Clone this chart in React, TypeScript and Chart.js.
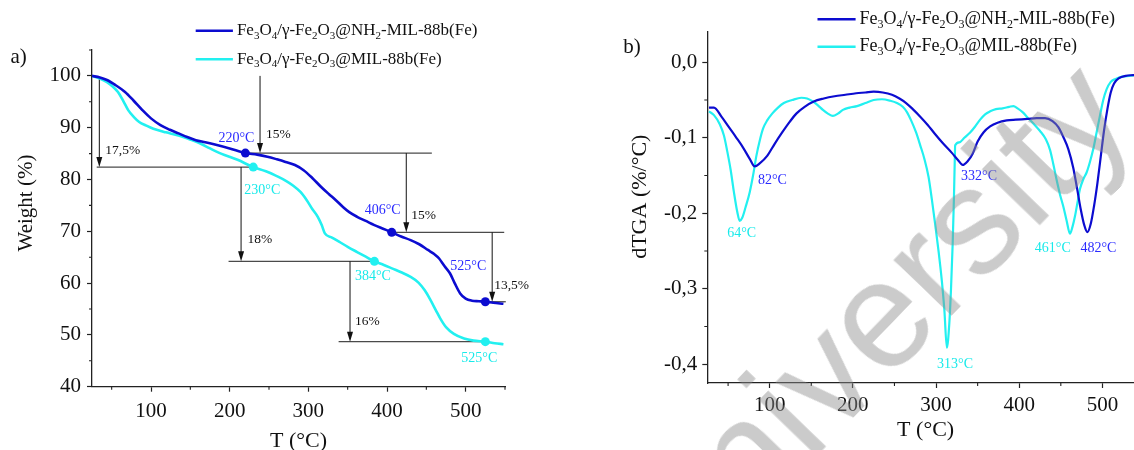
import { useEffect, useRef } from "react";
import { Chart, registerables } from "chart.js";

Chart.register(...registerables);

const SERIF = '"Liberation Serif", "Times New Roman", serif';
const NH2_COLOR = "#0c0cd0";
const MIL_COLOR = "#22f0f0";
const NH2_TEXT = "#2b2bff";
const MIL_TEXT = "#18eaea";
const AXIS_COLOR = "#222";

// Sample names; "_d" marks a subscript digit
const sampleNames = ["Fe_3O_4/γ-Fe_2O_3@NH_2-MIL-88b(Fe)", "Fe_3O_4/γ-Fe_2O_3@MIL-88b(Fe)"];

// TGA – Fe3O4/γ-Fe2O3@NH2-MIL-88b(Fe)
const tgaTempNH2 = [25, 35, 44, 55, 67, 78, 89, 100, 112, 124, 135, 146, 157, 169, 180, 200, 220, 235, 248, 260, 271, 283, 294, 305, 316, 326, 335, 344, 352, 362, 373, 384, 395, 406, 418, 430, 441, 452, 460, 466, 473, 480, 486, 493, 500, 508, 517, 525, 535, 548];
const tgaWeightNH2 = [100, 99.7, 99.2, 98.2, 96.9, 95.2, 93.4, 91.8, 90.5, 89.6, 88.9, 88.2, 87.6, 87.2, 86.8, 86.0, 85.1, 84.8, 84.4, 83.9, 83.4, 82.8, 81.8, 80.3, 78.6, 77.2, 76.0, 74.7, 73.7, 72.8, 72.0, 71.2, 70.5, 69.8, 69.0, 68.3, 67.5, 66.4, 65.6, 64.8, 63.3, 61.9, 60.0, 58.0, 57.0, 56.6, 56.5, 56.4, 56.2, 56.0];

// TGA – Fe3O4/γ-Fe2O3@MIL-88b(Fe)
const tgaTempMIL = [25, 35, 44, 51, 58, 65, 71, 78, 85, 94, 103, 119, 135, 148, 162, 175, 189, 210, 230, 246, 262, 272, 280, 290, 298, 305, 312, 317, 321, 330, 339, 350, 362, 373, 384, 396, 407, 418, 430, 440, 448, 455, 462, 468, 475, 485, 498, 510, 525, 537, 548];
const tgaWeightMIL = [100, 99.5, 98.8, 98.0, 96.9, 95.1, 93.4, 92.1, 91.1, 90.4, 89.8, 89.1, 88.5, 87.8, 87.0, 86.0, 85.0, 83.8, 82.4, 81.6, 80.5, 79.7, 78.9, 77.6, 76.0, 74.3, 72.8, 71.2, 69.6, 68.8, 68.0, 67.0, 66.0, 65.1, 64.2, 63.5, 62.8, 62.1, 61.2, 60.1, 58.6, 56.8, 54.8, 53.1, 51.5, 50.2, 49.3, 48.9, 48.7, 48.4, 48.2];

// dTGA – NH2 sample
const dtgaTempNH2 = [27, 33, 42, 51, 60, 68, 76, 82, 88, 97, 106, 115, 124, 132, 142, 153, 165, 178, 191, 204, 215, 225, 236, 247, 256, 264, 272, 281, 290, 298, 308, 319, 326, 332, 338, 344, 350, 357, 365, 374, 385, 396, 410, 421, 431, 440, 447, 453, 459, 465, 470, 474, 478, 482, 486, 490, 494, 498, 502, 506, 510, 514, 520, 528, 537, 548];
const dtgaRateNH2 = [-0.060, -0.060, -0.072, -0.086, -0.100, -0.113, -0.128, -0.138, -0.134, -0.124, -0.108, -0.093, -0.079, -0.068, -0.059, -0.052, -0.048, -0.045, -0.043, -0.041, -0.040, -0.039, -0.040, -0.043, -0.048, -0.054, -0.062, -0.072, -0.083, -0.094, -0.107, -0.120, -0.129, -0.136, -0.131, -0.121, -0.105, -0.093, -0.085, -0.080, -0.077, -0.076, -0.075, -0.074, -0.074, -0.078, -0.086, -0.099, -0.115, -0.140, -0.170, -0.195, -0.215, -0.225, -0.214, -0.190, -0.160, -0.125, -0.090, -0.062, -0.040, -0.028, -0.021, -0.018, -0.017, -0.016];

// dTGA – MIL sample
const dtgaTempMIL = [27, 33, 40, 45, 49, 53, 57, 61, 64, 67, 71, 76, 80, 84, 88, 92, 97, 103, 110, 117, 127, 138, 145, 152, 158, 164, 170, 176, 182, 188, 196, 205, 215, 225, 235, 245, 253, 260, 265, 270, 276, 281, 286, 291, 295, 299, 303, 307, 310, 313, 316, 318, 320, 321.5, 322.5, 323, 328, 334, 341, 347, 353, 359, 365, 372, 380, 388, 393, 398, 404, 410, 417, 425, 432, 437, 441, 445, 449, 453, 457, 461, 464, 467, 470, 473, 477, 481, 485, 489, 493, 497, 501, 505, 510, 516, 524, 532, 540, 548];
const dtgaRateMIL = [-0.065, -0.070, -0.082, -0.097, -0.118, -0.142, -0.172, -0.198, -0.210, -0.206, -0.192, -0.172, -0.150, -0.124, -0.104, -0.088, -0.077, -0.068, -0.060, -0.054, -0.050, -0.047, -0.048, -0.052, -0.057, -0.063, -0.068, -0.071, -0.068, -0.063, -0.060, -0.058, -0.054, -0.050, -0.049, -0.051, -0.054, -0.059, -0.066, -0.077, -0.093, -0.110, -0.128, -0.152, -0.182, -0.215, -0.250, -0.290, -0.328, -0.378, -0.345, -0.300, -0.240, -0.180, -0.130, -0.110, -0.106, -0.100, -0.093, -0.085, -0.076, -0.069, -0.065, -0.062, -0.061, -0.059, -0.058, -0.061, -0.066, -0.073, -0.081, -0.091, -0.102, -0.116, -0.135, -0.156, -0.175, -0.191, -0.210, -0.227, -0.218, -0.204, -0.186, -0.168, -0.155, -0.146, -0.132, -0.115, -0.093, -0.071, -0.050, -0.036, -0.026, -0.022, -0.019, -0.018, -0.017, -0.016];

// Axis ticks
const tempTicks = [100, 200, 300, 400, 500];
const tempMinorTicks = [50, 150, 250, 350, 450, 550];
const weightTicks = [40, 50, 60, 70, 80, 90, 100];
const weightMinorTicks = [45, 55, 65, 75, 85, 95, 105];
const rateTicks = [-0.4, -0.3, -0.2, -0.1, 0];
const rateMinorTicks = [-0.35, -0.25, -0.15, -0.05];

// Characteristic temperatures marked on the TGA curves
const tgaMarkTempNH2 = [220, 406, 525];
const tgaMarkTempMIL = [230, 384, 525];
// Mass losses between the marked temperatures
const lossNH2 = ["15%", "15%", "13,5%"];
const lossMIL = ["17,5%", "18%", "16%"];

// dTGA peak temperatures
const peakTempNH2 = [82, 332, 482];
const peakTempMIL = [64, 313, 461];

// ---- annotation layout (arrow temperatures in °C, offsets in px) ----
const stepLayoutNH2 = [
  { arrowT: 238.6, top: 100, guideFrom: null as number | null, guideTo: 457, dx: 6, dy: -19 },
  { arrowT: 424.5, top: null as number | null, guideFrom: null, guideTo: 549, dx: 5, dy: -17 },
  { arrowT: 533.7, top: null as number | null, guideFrom: null, guideTo: 551, dx: 2, dy: -16 },
];
const stepLayoutMIL = [
  { arrowT: 34.3, top: 99.4, guideFrom: 31, guideTo: null as number | null, dx: 6, dy: -17 },
  { arrowT: 214.5, top: null as number | null, guideFrom: 198.6, guideTo: null, dx: 6.5, dy: -22 },
  { arrowT: 353, top: null as number | null, guideFrom: 338.5, guideTo: null, dx: 5, dy: -20 },
];
const markLabelOffsetNH2 = [[-9, -14.5], [-9, -22], [-17, -35]];
const markLabelOffsetMIL = [[9, 23], [-1.5, 15], [-6, 17]];
const peakLabelOffsetNH2 = [[17.7, 14.3], [16.4, 11.7], [11, 16.2]];
const peakLabelOffsetMIL = [[1.9, 12.5], [8.2, 16.3], [-17.2, 14.6]];

function interp(xs: number[], ys: number[], x: number) {
  for (let i = 1; i < xs.length; i++) {
    if (x <= xs[i]) {
      const t = (x - xs[i - 1]) / (xs[i] - xs[i - 1]);
      return ys[i - 1] + t * (ys[i] - ys[i - 1]);
    }
  }
  return ys[ys.length - 1];
}

const toPoints = (xs: number[], ys: number[]) => xs.map((x, i) => ({ x, y: ys[i] }));

function drawRich(ctx: CanvasRenderingContext2D, text: string, x: number, y: number, size: number, color: string, align: "left" | "center") {
  const parts: { t: string; sub: boolean }[] = [];
  let buf = "";
  for (let i = 0; i < text.length; i++) {
    if (text[i] === "_" && i + 1 < text.length) {
      if (buf) { parts.push({ t: buf, sub: false }); buf = ""; }
      parts.push({ t: text[i + 1], sub: true });
      i++;
    } else buf += text[i];
  }
  if (buf) parts.push({ t: buf, sub: false });
  const main = `${size}px ${SERIF}`;
  const small = `${Math.round(size * 0.66)}px ${SERIF}`;
  let w = 0;
  for (const p of parts) { ctx.font = p.sub ? small : main; w += ctx.measureText(p.t).width; }
  let cx = align === "center" ? x - w / 2 : x;
  ctx.fillStyle = color;
  ctx.textBaseline = "middle";
  ctx.textAlign = "left";
  for (const p of parts) {
    ctx.font = p.sub ? small : main;
    ctx.fillText(p.t, cx, p.sub ? y + size * 0.3 : y);
    cx += ctx.measureText(p.t).width;
  }
}

function drawText(ctx: CanvasRenderingContext2D, text: string, x: number, y: number, size: number, color: string, align: CanvasTextAlign = "center", rot = 0) {
  ctx.save();
  ctx.translate(x, y);
  if (rot) ctx.rotate(rot);
  ctx.font = `${size}px ${SERIF}`;
  ctx.fillStyle = color;
  ctx.textAlign = align;
  ctx.textBaseline = "middle";
  ctx.fillText(text, 0, 0);
  ctx.restore();
}

function drawLegend(ctx: CanvasRenderingContext2D, x0: number, x1: number, ys: number[], size: number) {
  const colors = [NH2_COLOR, MIL_COLOR];
  sampleNames.forEach((name, i) => {
    ctx.save();
    ctx.strokeStyle = colors[i];
    ctx.lineWidth = 2.6;
    ctx.beginPath();
    ctx.moveTo(x0, ys[i]);
    ctx.lineTo(x1, ys[i]);
    ctx.stroke();
    ctx.restore();
    drawRich(ctx, name, x1 + 4, ys[i], size, "#111", "left");
  });
}

function drawMinorTicks(chart: any, xs: number[], ys: number[]) {
  const { ctx, chartArea, scales } = chart;
  ctx.save();
  ctx.strokeStyle = AXIS_COLOR;
  ctx.lineWidth = 1.1;
  ctx.beginPath();
  for (const v of xs) {
    const px = scales.x.getPixelForValue(v);
    ctx.moveTo(px, chartArea.bottom);
    ctx.lineTo(px, chartArea.bottom + 3);
  }
  for (const v of ys) {
    const py = scales.y.getPixelForValue(v);
    ctx.moveTo(chartArea.left, py);
    ctx.lineTo(chartArea.left - 3, py);
  }
  ctx.stroke();
  ctx.restore();
}

function drawArrow(ctx: CanvasRenderingContext2D, x: number, yTop: number, yBottom: number) {
  ctx.save();
  ctx.strokeStyle = "#111";
  ctx.fillStyle = "#111";
  ctx.lineWidth = 1;
  ctx.beginPath();
  ctx.moveTo(x, yTop);
  ctx.lineTo(x, yBottom - 8);
  ctx.stroke();
  ctx.beginPath();
  ctx.moveTo(x, yBottom);
  ctx.lineTo(x - 3, yBottom - 10);
  ctx.lineTo(x + 3, yBottom - 10);
  ctx.closePath();
  ctx.fill();
  ctx.restore();
}

function hLine(ctx: CanvasRenderingContext2D, x0: number, x1: number, y: number) {
  ctx.save();
  ctx.strokeStyle = "#4a4a4a";
  ctx.lineWidth = 1.3;
  ctx.beginPath();
  ctx.moveTo(x0, y);
  ctx.lineTo(x1, y);
  ctx.stroke();
  ctx.restore();
}

function axis(min: number, max: number, ticks: number[], fmt: (v: number) => string, fitKey: "width" | "height", fitSize: number, pad: number) {
  return {
    type: "linear" as const,
    min,
    max,
    afterBuildTicks: (s: any) => { s.ticks = ticks.map((v) => ({ value: v })); },
    afterFit: (s: any) => { s[fitKey] = fitSize; },
    grid: { drawOnChartArea: false, drawTicks: true, tickLength: 5, tickWidth: 1.2, tickColor: AXIS_COLOR },
    border: { display: true, color: AXIS_COLOR, width: 1.3 },
    ticks: {
      color: "#111",
      font: { family: SERIF, size: 21 },
      padding: pad,
      autoSkip: false,
      maxRotation: 0,
      callback: (v: any) => fmt(Number(v)),
    },
    title: { display: false },
  };
}

const tgaLevels = (temps: number[], weights: number[], marks: number[]) => marks.map((t) => interp(temps, weights, t));

const tgaDecor = {
  id: "tgaDecor",
  beforeDatasetsDraw(chart: any) {
    const { ctx, scales: { x, y } } = chart;
    const levNH2 = tgaLevels(tgaTempNH2, tgaWeightNH2, tgaMarkTempNH2);
    const levMIL = tgaLevels(tgaTempMIL, tgaWeightMIL, tgaMarkTempMIL);
    stepLayoutNH2.forEach((s, i) => {
      hLine(ctx, x.getPixelForValue(tgaMarkTempNH2[i]), x.getPixelForValue(s.guideTo as number), y.getPixelForValue(levNH2[i]));
    });
    stepLayoutMIL.forEach((s, i) => {
      hLine(ctx, x.getPixelForValue(s.guideFrom as number), x.getPixelForValue(tgaMarkTempMIL[i]), y.getPixelForValue(levMIL[i]));
    });
    const arrows = (layout: any[], lev: number[], losses: string[]) => {
      layout.forEach((s, i) => {
        const top = i === 0 ? s.top : lev[i - 1];
        const px = x.getPixelForValue(s.arrowT);
        const yb = y.getPixelForValue(lev[i]);
        drawArrow(ctx, px, y.getPixelForValue(top), yb);
        drawText(ctx, losses[i], px + s.dx, yb + s.dy, 13.5, "#111", "left");
      });
    };
    arrows(stepLayoutNH2, levNH2, lossNH2);
    arrows(stepLayoutMIL, levMIL, lossMIL);
  },
  afterDatasetsDraw(chart: any) {
    const { ctx, scales: { x, y } } = chart;
    const put = (marks: number[], temps: number[], weights: number[], offs: number[][], color: string) => {
      marks.forEach((t, i) => {
        const w = interp(temps, weights, t);
        drawText(ctx, `${t}°C`, x.getPixelForValue(t) + offs[i][0], y.getPixelForValue(w) + offs[i][1], 14, color);
      });
    };
    put(tgaMarkTempNH2, tgaTempNH2, tgaWeightNH2, markLabelOffsetNH2, NH2_TEXT);
    put(tgaMarkTempMIL, tgaTempMIL, tgaWeightMIL, markLabelOffsetMIL, MIL_TEXT);
  },
  afterDraw(chart: any) {
    const { ctx, chartArea } = chart;
    drawMinorTicks(chart, tempMinorTicks, weightMinorTicks);
    drawLegend(ctx, chartArea.left + 103.7, chartArea.left + 140.9, [30.7, 59.3], 17);
    drawText(ctx, "T (°C)", (chartArea.left + chartArea.right) / 2, chartArea.bottom + 55, 22, "#111");
    drawText(ctx, "Weight (%)", chartArea.left - 66, chartArea.top + 153, 21, "#111", "center", -Math.PI / 2);
    drawText(ctx, "a)", 18.7, 57.5, 21, "#111");
  },
};

const dtgaDecor = {
  id: "dtgaDecor",
  afterDatasetsDraw(chart: any) {
    const { ctx, scales: { x, y } } = chart;
    const put = (peaks: number[], temps: number[], rates: number[], offs: number[][], color: string) => {
      peaks.forEach((t, i) => {
        const v = interp(temps, rates, t);
        drawText(ctx, `${t}°C`, x.getPixelForValue(t) + offs[i][0], y.getPixelForValue(v) + offs[i][1], 14, color);
      });
    };
    put(peakTempNH2, dtgaTempNH2, dtgaRateNH2, peakLabelOffsetNH2, NH2_TEXT);
    put(peakTempMIL, dtgaTempMIL, dtgaRateMIL, peakLabelOffsetMIL, MIL_TEXT);
  },
  afterDraw(chart: any) {
    const { ctx, chartArea } = chart;
    drawMinorTicks(chart, tempMinorTicks, rateMinorTicks);
    drawLegend(ctx, chartArea.left + 110.2, chartArea.left + 148.3, [19.3, 46.7], 18);
    drawText(ctx, "T (°C)", (chartArea.left + chartArea.right) / 2, chartArea.bottom + 47, 22, "#111");
    drawText(ctx, "dTGA (%/°C)", chartArea.left - 67.3, chartArea.top + 165, 22, "#111", "center", -Math.PI / 2);
    drawText(ctx, "b)", 52, 47.5, 21, "#111");
  },
};

function lineSet(xs: number[], ys: number[], color: string, width: number) {
  return {
    data: toPoints(xs, ys),
    borderColor: color,
    backgroundColor: color,
    borderWidth: width,
    pointRadius: 0,
    cubicInterpolationMode: "monotone" as const,
    fill: false,
  };
}

function markSet(temps: number[], ys: number[], marks: number[], color: string) {
  return {
    data: marks.map((t) => ({ x: t, y: interp(temps, ys, t) })),
    showLine: false,
    pointRadius: 4.5,
    pointBackgroundColor: color,
    pointBorderWidth: 0,
    borderColor: color,
  };
}

export default function App() {
  const leftRef = useRef<HTMLCanvasElement>(null);
  const rightRef = useRef<HTMLCanvasElement>(null);

  useEffect(() => {
    const common = {
      responsive: false,
      animation: false as const,
      events: [] as any[],
      plugins: { legend: { display: false }, tooltip: { enabled: false } },
    };

    const tga = new Chart(leftRef.current as HTMLCanvasElement, {
      type: "line",
      data: {
        datasets: [
          lineSet(tgaTempNH2, tgaWeightNH2, NH2_COLOR, 2.6),
          lineSet(tgaTempMIL, tgaWeightMIL, MIL_COLOR, 2.6),
          markSet(tgaTempNH2, tgaWeightNH2, tgaMarkTempNH2, NH2_COLOR),
          markSet(tgaTempMIL, tgaWeightMIL, tgaMarkTempMIL, MIL_COLOR),
        ] as any,
      },
      options: {
        ...common,
        layout: { padding: { top: 50, right: 75, left: 0, bottom: 0 } },
        scales: {
          x: axis(25, 550, tempTicks, (v) => String(v), "height", 63.3, 7),
          y: axis(40, 105, weightTicks, (v) => String(v), "width", 92, 6),
        },
      } as any,
      plugins: [tgaDecor],
    });

    const dtga = new Chart(rightRef.current as HTMLCanvasElement, {
      type: "line",
      data: {
        datasets: [
          lineSet(dtgaTempNH2, dtgaRateNH2, NH2_COLOR, 2.2),
          lineSet(dtgaTempMIL, dtgaRateMIL, MIL_COLOR, 2.2),
        ] as any,
      },
      options: {
        ...common,
        layout: { padding: { top: 31.7, right: 6, left: 0, bottom: 0 } },
        scales: {
          x: axis(25, 550, tempTicks, (v) => String(v), "height", 67, 5),
          y: axis(-0.4248, 0.0405, rateTicks, (v) => v.toFixed(1).replace(".", ","), "width", 127.3, 5),
        },
      } as any,
      plugins: [dtgaDecor],
    });

    return () => {
      tga.destroy();
      dtga.destroy();
    };
  }, []);

  return (
    <div style={{ position: "fixed", left: 0, top: 0, width: 1134, height: 450, overflow: "hidden", background: "#fff" }}>
      <canvas ref={leftRef} width={580} height={450} style={{ position: "absolute", left: 0, top: 0, width: 580, height: 450 }} />
      <canvas ref={rightRef} width={570} height={450} style={{ position: "absolute", left: 580, top: 0, width: 570, height: 450 }} />
      <div
        style={{
          position: "absolute",
          left: 868,
          top: 326,
          transform: "translate(-50%, -50%) rotate(-46deg)",
          fontFamily: '"Liberation Sans", Arial, sans-serif',
          fontSize: 152,
          lineHeight: 1,
          color: "rgba(140,140,140,0.45)",
          whiteSpace: "nowrap",
          pointerEvents: "none",
        }}
      >
        University
      </div>
    </div>
  );
}
